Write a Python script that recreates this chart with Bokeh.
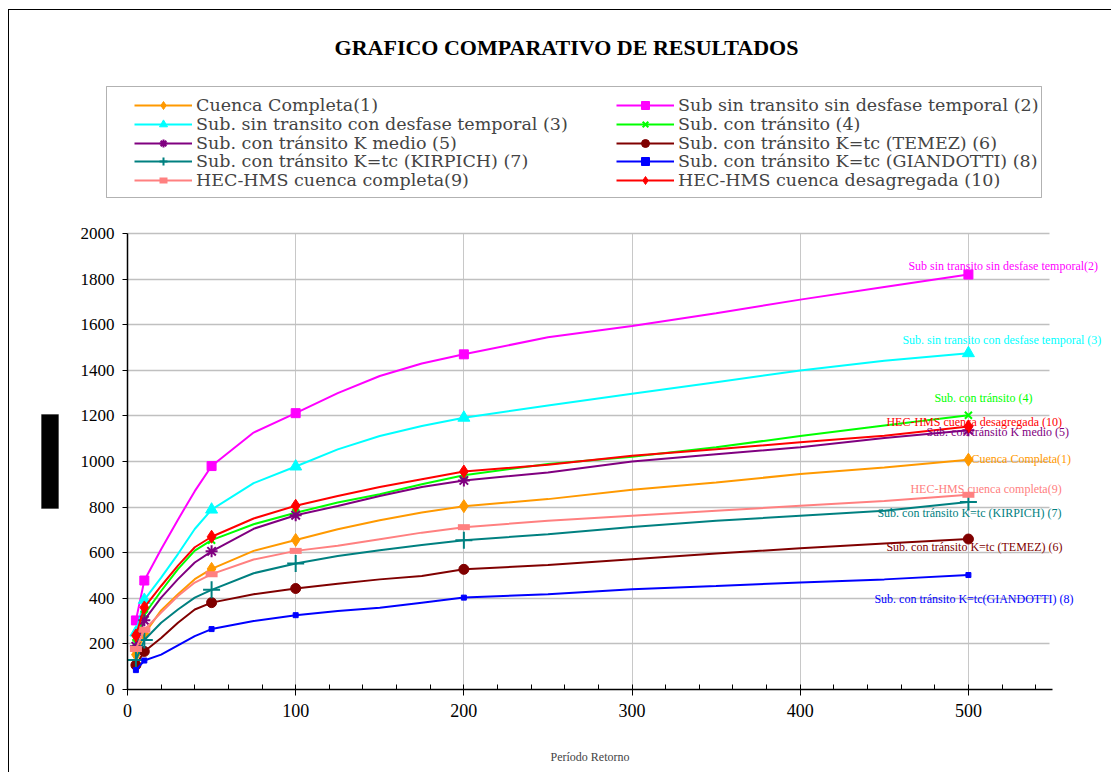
from bokeh.plotting import figure
from bokeh.models import (Legend, LegendItem, Label, BoxAnnotation, SingleIntervalTicker,
                          ColumnDataSource, Range1d)
from bokeh.embed import file_html
from bokeh.resources import INLINE

# ---------------- data ----------------
return_periods = [5, 10, 20, 30, 40, 50, 75, 100, 125, 150, 175, 200, 250, 300, 350, 400, 450, 500]
marker_periods = [5, 10, 50, 100, 200, 500]

cuenca_completa_1 = [153, 244, 347, 418, 484, 529, 608, 656, 703, 742, 776, 804, 835, 876, 908, 945, 974, 1008]
sub_sin_sin_desfase_2 = [303, 478, 615, 745, 870, 980, 1127, 1212, 1300, 1375, 1430, 1470, 1545, 1594, 1650, 1710, 1765, 1820]
sub_sin_con_desfase_3 = [250, 393, 491, 594, 704, 789, 905, 978, 1053, 1112, 1156, 1192, 1246, 1297, 1348, 1399, 1442, 1475]
sub_con_transito_4 = [205, 329, 432, 528, 609, 655, 725, 775, 820, 856, 900, 940, 989, 1021, 1062, 1112, 1158, 1203]
sub_k_medio_5 = [190, 304, 403, 484, 557, 606, 705, 764, 805, 849, 888, 917, 952, 1000, 1032, 1062, 1103, 1137]
sub_temez_6 = [107, 167, 226, 293, 351, 381, 418, 443, 464, 483, 498, 527, 546, 571, 596, 620, 640, 660]
sub_kirpich_7 = [129, 217, 293, 351, 403, 437, 510, 553, 586, 611, 634, 655, 681, 713, 740, 762, 784, 822]
sub_giandotti_8 = [85, 127, 153, 194, 234, 265, 300, 326, 344, 359, 381, 403, 418, 440, 454, 469, 483, 502]
hec_completa_9 = [178, 262, 337, 410, 469, 506, 570, 608, 630, 659, 688, 712, 740, 762, 784, 806, 827, 854]
hec_desagregada_10 = [237, 360, 454, 543, 624, 670, 750, 806, 849, 888, 922, 956, 986, 1025, 1054, 1084, 1113, 1153]

legend_labels = [
    "Cuenca Completa(1)",
    "Sub sin transito sin desfase temporal (2)",
    "Sub. sin transito con desfase temporal (3)",
    "Sub. con tránsito (4)",
    "Sub. con tránsito K medio (5)",
    "Sub. con tránsito K=tc (TEMEZ) (6)",
    "Sub. con tránsito K=tc (KIRPICH) (7)",
    "Sub. con tránsito K=tc (GIANDOTTI) (8)",
    "HEC-HMS cuenca completa(9)",
    "HEC-HMS cuenca desagregada (10)",
]
end_labels = [
    "Cuenca Completa(1)",
    "Sub sin transito sin desfase temporal(2)",
    "Sub. sin transito con desfase temporal (3)",
    "Sub. con tránsito (4)",
    "Sub. con tránsito K medio (5)",
    "Sub. con tránsito K=tc (TEMEZ) (6)",
    "Sub. con tránsito K=tc (KIRPICH) (7)",
    "Sub. con tránsito K=tc(GIANDOTTI) (8)",
    "HEC-HMS cuenca completa(9)",
    "HEC-HMS cuenca desagregada (10)",
]
series = [cuenca_completa_1, sub_sin_sin_desfase_2, sub_sin_con_desfase_3, sub_con_transito_4,
          sub_k_medio_5, sub_temez_6, sub_kirpich_7, sub_giandotti_8, hec_completa_9, hec_desagregada_10]

x_axis_max = 550
y_axis_max = 2000

# ---------------- styles ----------------
colors = ["#FF9900", "#FF00FF", "#00FFFF", "#00FF00", "#800080",
          "#800000", "#008080", "#0000FF", "#FF8080", "#FF0000"]
markers = ["diamond", "square", "triangle", "x", "asterisk",
           "circle", "cross", "square", "dash", "diamond"]
msizes = [13, 9, 12, 10, 12, 10, 17, 5, 12, 13]
mlw = [1, 1, 1, 2, 2, 1, 2, 1, 6, 1]
# end-label offsets (screen px relative to the last point)
lab_dx = [3, -60, -66, -34, -42, -82, -91, -94, -58, -82]
lab_dy = [1, 9, 13, 17, -2, -8, -11, -24, 6, 5]

SERIF = "Liberation Serif"
LEG_FONT = "DejaVu Serif"

# canvas geometry: the frame fills the whole canvas, axes are pinned at 0
W, H = 1103, 763
PX_L, PX_R, PX_T, PX_B = 118, 1043, 223, 679      # where 0 / x_axis_max / y_axis_max / 0 fall
sx = (PX_R - PX_L) / x_axis_max
sy = (PX_B - PX_T) / y_axis_max
x_rng = Range1d(-PX_L / sx, x_axis_max + (W - PX_R) / sx)
y_rng = Range1d(-(H - PX_B) / sy, y_axis_max + PX_T / sy)

p = figure(width=W, height=H, output_backend="svg", toolbar_location=None,
           x_range=x_rng, y_range=y_rng,
           min_border_left=0, min_border_right=0, min_border_top=0, min_border_bottom=0)
p.styles = {"border-left": "1px solid black", "border-top": "1px solid black",
            "margin-left": "8px", "margin-top": "9px"}
p.outline_line_color = None
p.background_fill_color = "white"
p.border_fill_color = "white"

# grid
p.xgrid.ticker = SingleIntervalTicker(interval=100)
p.ygrid.ticker = SingleIntervalTicker(interval=200)
p.xgrid.bounds = (100, 500)
p.ygrid.bounds = (200, y_axis_max)
p.xgrid.cross_bounds = (0, y_axis_max)
p.ygrid.cross_bounds = (0, 548)
p.xgrid.grid_line_color = "#C8C8C8"
p.ygrid.grid_line_color = "#C0C0C0"
p.ygrid.grid_line_width = 1.5

# axes
p.xaxis.fixed_location = 0
p.yaxis.fixed_location = 0
p.xaxis.bounds = (0, x_axis_max)
p.yaxis.bounds = (0, y_axis_max)
p.xaxis.ticker = SingleIntervalTicker(interval=100, num_minor_ticks=5)
p.yaxis.ticker = SingleIntervalTicker(interval=200, num_minor_ticks=0)
for ax in (p.xaxis[0], p.yaxis[0]):
    ax.axis_line_color = "black"
    ax.axis_line_width = 1.5
    ax.major_tick_line_color = "black"
    ax.major_label_text_font = SERIF
    ax.major_label_text_color = "black"
p.xaxis.major_tick_in = 4
p.xaxis.major_tick_out = 6
p.xaxis.minor_tick_in = 5
p.xaxis.minor_tick_out = 0
p.xaxis.minor_tick_line_color = "black"
p.xaxis.major_label_text_font_size = "18px"
p.xaxis.major_label_standoff = 8
p.xaxis.axis_label = "Período Retorno"
p.xaxis.axis_label_text_font = SERIF
p.xaxis.axis_label_text_font_style = "normal"
p.xaxis.axis_label_text_font_size = "12px"
p.xaxis.axis_label_standoff = 30
p.yaxis.major_tick_in = 0
p.yaxis.major_tick_out = 5
p.yaxis.minor_tick_line_color = None
p.yaxis.major_label_text_font_size = "17px"
p.yaxis.major_label_standoff = 8

items = []
for i, vals in enumerate(series):
    lr = p.line(return_periods, vals, line_color=colors[i], line_width=2)
    mv = [vals[return_periods.index(t)] for t in marker_periods]
    src = ColumnDataSource(dict(x=marker_periods, y=mv))
    sr = p.scatter("x", "y", source=src, marker=markers[i], size=msizes[i],
                   fill_color=colors[i], line_color=colors[i], line_width=mlw[i])
    items.append(LegendItem(label=legend_labels[i], renderers=[lr, sr]))
    p.add_layout(Label(x=marker_periods[-1], y=mv[-1], x_offset=lab_dx[i], y_offset=lab_dy[i],
                       text=end_labels[i], text_color=colors[i], text_font=SERIF,
                       text_font_size="12px", text_align="left", text_baseline="middle"))

# legend frame (page box 105..1040 x 85..196)
p.add_layout(BoxAnnotation(left=96, right=1031, top=75, bottom=186,
                           left_units="canvas", right_units="canvas",
                           top_units="canvas", bottom_units="canvas",
                           fill_color="white", fill_alpha=1, line_color="black", line_width=1))

# legend: one horizontal row per pair of entries
ROW0_CENTER, ROW_STEP, ROW_H = 95, 18.75, 20
for r in range(0, len(items) // 2):
    center = ROW0_CENTER + r * ROW_STEP
    leg = Legend(items=[items[2 * r], items[2 * r + 1]], orientation="horizontal",
                 location=(125, H - (center + ROW_H / 2)),
                 label_text_font=LEG_FONT, label_text_font_size="17.5px",
                 glyph_width=58, glyph_height=ROW_H, label_height=ROW_H, label_standoff=4,
                 label_width=420, spacing=0, padding=0, margin=0,
                 border_line_color=None, background_fill_alpha=0)
    p.add_layout(leg, "center")

p.add_layout(Label(x=556, y=36, x_units="canvas", y_units="canvas",
                   text="GRAFICO COMPARATIVO DE RESULTADOS", text_font=SERIF,
                   text_font_style="bold", text_font_size="22px", text_color="black",
                   text_align="center", text_baseline="middle"))

p.add_layout(BoxAnnotation(left=31, right=48, top=403, bottom=497,
                           left_units="canvas", right_units="canvas",
                           top_units="canvas", bottom_units="canvas",
                           fill_color="black", fill_alpha=1, line_color="black"))

open("out.html", "w").write(file_html(p, INLINE))
